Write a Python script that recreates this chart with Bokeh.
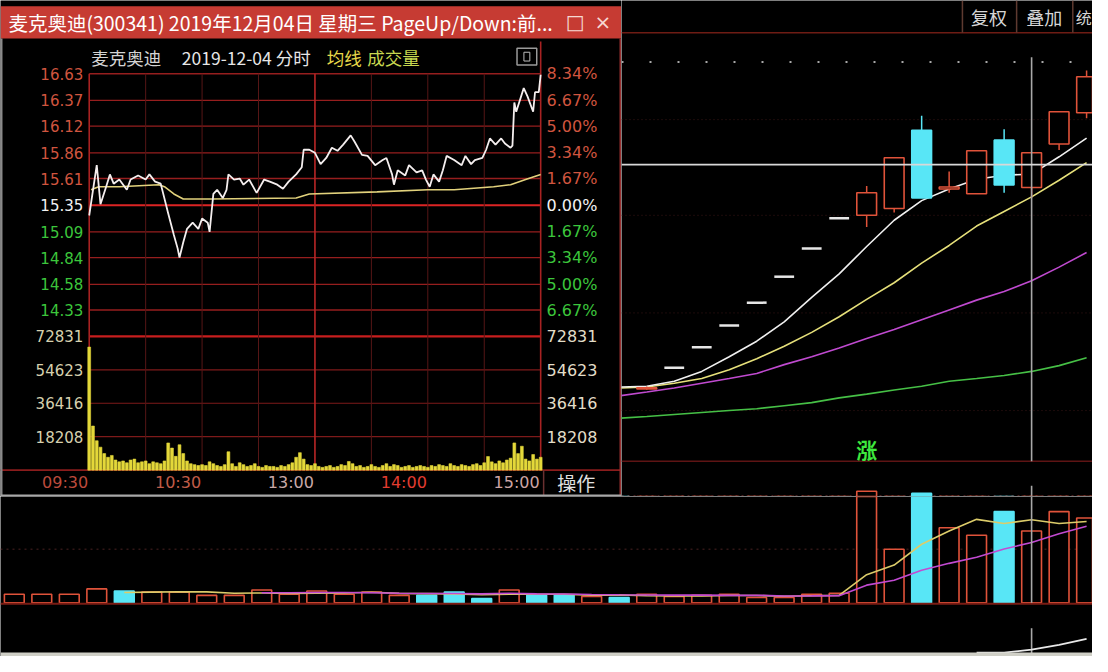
import numpy as np
from bokeh.plotting import figure
from bokeh.models import Range1d, Span
from bokeh.layouts import column, row
from bokeh.core.properties import value
from bokeh.embed import file_html
from bokeh.resources import INLINE

# ---------------- popup (intraday) data ----------------
title_text = "麦克奥迪(300341) 2019年12月04日 星期三 PageUp/Down:前..."
sub_name = "麦克奥迪"
sub_date = "2019-12-04 分时"
sub_avg = "均线"
sub_vol = "成交量"
op_text = "操作"

intra_min = [0, 4, 6, 9, 11, 13, 16, 20, 22, 26,
             30, 32, 35, 38, 42, 45, 47, 48, 50, 52,
             55, 58, 60, 63, 64, 66, 68, 71, 73, 74,
             77, 80, 82, 85, 89, 93, 96, 100, 103, 106,
             110, 113, 114, 117, 120, 123, 126, 129, 132, 135,
             139, 141, 145, 148, 152, 156, 158, 161, 162, 164,
             168, 170, 174, 177, 179, 181, 183, 186, 188, 190,
             194, 198, 200, 203, 205, 209, 211, 213, 216, 219,
             221, 224, 225, 226, 227, 231, 233, 236, 237, 239,
             240]
intra_price = [15.25, 15.74, 15.36, 15.53, 15.65, 15.56, 15.60, 15.50, 15.60, 15.64,
               15.60, 15.65, 15.58, 15.56, 15.27, 15.06, 14.93, 14.84, 14.99, 15.12,
               15.18, 15.12, 15.22, 15.18, 15.09, 15.46, 15.50, 15.42, 15.50, 15.65,
               15.60, 15.61, 15.55, 15.60, 15.47, 15.60, 15.58, 15.55, 15.51, 15.58,
               15.65, 15.72, 15.89, 15.89, 15.86, 15.75, 15.81, 15.91, 15.88, 15.94,
               16.03, 15.97, 15.84, 15.83, 15.74, 15.79, 15.81, 15.65, 15.55, 15.69,
               15.64, 15.74, 15.67, 15.69, 15.60, 15.53, 15.65, 15.58, 15.69, 15.83,
               15.79, 15.74, 15.83, 15.75, 15.79, 15.81, 15.89, 16.00, 15.94, 16.00,
               15.95, 15.91, 15.93, 16.35, 16.26, 16.49, 16.41, 16.26, 16.45, 16.45,
               16.62]
avg_min = [1, 5, 16, 37, 40, 45, 50, 65, 110, 117, 153, 180, 194, 215, 224, 232, 240]
avg_price = [15.50, 15.53, 15.53, 15.55, 15.53, 15.46, 15.41, 15.41, 15.42, 15.46,
             15.48, 15.50, 15.50, 15.53, 15.55, 15.60, 15.65]
vol_min = list(range(0, 241, 2))
intra_vol = [67000, 24000, 16000, 12500, 9000, 7000, 8000, 5500, 4500, 5000,
             4000, 5500, 6000, 4000, 4500, 5000, 3500, 4500, 4000, 3500,
             5000, 14800, 12000, 7500, 13800, 9000, 5000, 3500, 3000, 2500,
             3000, 2500, 4500, 3500, 2500, 2000, 3000, 10000, 3500, 2000,
             4000, 3000, 2000, 2500, 3500, 2000, 1500, 2500, 2000, 2000,
             1500, 2500, 2000, 3000, 4000, 7000, 9500, 6000, 3000, 2500,
             3500, 2000, 1500, 2000, 2500, 1500, 2000, 3000, 2500, 4700,
             3500, 2000, 2500, 1500, 2000, 3000, 2000, 1500, 2500, 3500,
             2000, 3000, 2500, 1500, 2000, 2500, 1500, 2000, 2500, 2000,
             1500, 2500, 2000, 3000, 2500, 2000, 3500, 2500, 2000, 3000,
             2500, 2000, 3000, 3500, 2500, 4000, 7400, 4500, 3500, 5000,
             4000, 5500, 6500, 14800, 9000, 13000, 6000, 5000, 8500, 6000,
             7000]
price_ticks = [16.63, 16.37, 16.12, 15.86, 15.61, 15.35, 15.09, 14.84, 14.58, 14.33]
price_labels = ["16.63", "16.37", "16.12", "15.86", "15.61", "15.35", "15.09", "14.84", "14.58", "14.33"]
pct_labels = ["8.34%", "6.67%", "5.00%", "3.34%", "1.67%", "0.00%", "1.67%", "3.34%", "5.00%", "6.67%"]
vol_ticks = [72831, 54623, 36416, 18208]
vol_labels = ["72831", "54623", "36416", "18208"]
time_ticks = [0, 60, 120, 180, 240]
time_labels = ["09:30", "10:30", "13:00", "14:00", "15:00"]
half_ticks = [30, 60, 90, 150, 180, 210]

# ---------------- daily (background) data ----------------
day_vol = [8, 8, 8, 13, 11, 10, 10, 7, 7, 12,
           8, 11, 8, 10, 7, 7, 10, 4, 12, 7,
           7, 6, 5, 8, 6, 7, 8, 5, 5, 8,
           9, 104, 50, 102, 70, 63, 85, 67, 85, 79]
day_dir = [1, 1, 1, 1, -1, 1, 1, 1, 1, 1,
           1, 1, 1, 1, 1, -1, -1, -1, 1, -1,
           -1, 1, -1, 1, 1, 1, 1, 1, 1, 1,
           1, 1, 1, -1, 1, 1, -1, 1, 1, 1]
k_day = list(range(23, 40))
k_open = [7.25, 8.10, 8.91, 9.77, 10.68, 11.71, 12.83, 14.03, 14.15, 14.42, 17.52, 15.19, 15.00, 17.13, 15.25, 16.98, 18.22]
k_high = [7.35, 8.10, 8.91, 9.77, 10.68, 11.71, 12.83, 14.03, 15.31, 16.43, 18.10, 15.89, 16.71, 17.56, 16.63, 18.26, 19.90]
k_low = [7.22, 8.10, 8.91, 9.77, 10.68, 11.71, 12.83, 14.03, 13.68, 14.26, 14.84, 15.04, 15.00, 15.04, 14.84, 16.74, 18.00]
k_close = [7.30, 8.10, 8.91, 9.77, 10.68, 11.71, 12.83, 14.03, 15.04, 16.43, 14.84, 15.27, 16.71, 15.35, 16.63, 18.26, 19.65]
ma_day = list(range(22, 40))
ma5 = [7.33, 7.36, 7.56, 7.95, 8.53, 9.15, 9.92, 10.89, 11.82, 12.91, 13.95, 14.73, 15.19, 15.58, 15.74, 15.78, 16.47, 17.21]
ma10 = [7.29, 7.33, 7.48, 7.67, 8.02, 8.45, 8.95, 9.50, 10.12, 10.81, 11.47, 12.25, 12.95, 13.72, 14.30, 14.88, 15.54, 16.24]
ma20 = [6.98, 7.13, 7.29, 7.48, 7.67, 7.87, 8.22, 8.53, 8.88, 9.26, 9.61, 10.00, 10.39, 10.78, 11.12, 11.55, 12.09, 12.67]
ma60 = [6.09, 6.16, 6.24, 6.32, 6.40, 6.47, 6.59, 6.71, 6.90, 7.05, 7.21, 7.36, 7.56, 7.67, 7.79, 7.95, 8.18, 8.49]
cross_day = 37
cross_price = 16.16
ind_day = [35, 36, 37, 38, 39]
ind_val = [4, 4, 7, 12, 18]
buttons = ["复权", "叠加", "统"]
signal_day = 31
signal_text = "涨"

CJK = value("Noto Sans CJK SC")
NUM = value("DejaVu Sans")

RED_UP = "#e0533a"
CYAN = "#58e6f6"

# output size (window minus the 8px page margin); the reference is 1108 x 672
OUT_W, OUT_H = 1092, 656
REF_W, REF_H = 1108, 672
POP_W = round(630 * OUT_W / REF_W)
TOP_H = round(508 * OUT_H / REF_H)


def lin_range(v1, p1, v2, p2, pa, pb):
    b = (p2 - p1) / (v2 - v1)
    return Range1d(v1 + (pa - p1) / b, v1 + (pb - p1) / b)


def base_fig(w, h, x0, x1, y0, y1, xr, yr, extra_y):
    p = figure(width=w, height=h, x_range=xr, y_range=yr,
               output_backend="svg", toolbar_location=None,
               x_axis_location=None, y_axis_location=None,
               min_border=0, background_fill_color="#000000",
               border_fill_color="#000000", outline_line_color=None)
    p.grid.visible = False
    p.extra_x_ranges = {"px": Range1d(x0, x1)}
    ey = {"py": Range1d(y1, y0)}
    ey.update(extra_y)
    p.extra_y_ranges = ey
    return p


def hline(p, xa, xb, y, color, width=1.0, dash="solid", yr="py"):
    p.segment(x0=[xa], x1=[xb], y0=[y], y1=[y], x_range_name="px", y_range_name=yr,
              line_color=color, line_width=width, line_dash=dash)


def vline_px(p, x, ya, yb, color, width=1.0):
    p.segment(x0=[x], x1=[x], y0=[ya], y1=[yb], x_range_name="px", y_range_name="py",
              line_color=color, line_width=width)


# ======================= popup figure =======================
pop = base_fig(POP_W, TOP_H, 0, 630, 0, 508,
               lin_range(0, 90, 240, 548, 0, 630),
               lin_range(16.63, 75, 14.33, 317, 508, 0),
               {"vol": lin_range(72831, 344, 0, 481, 508, 0)})

# title bar
pop.quad(left=[0], right=[630], top=[6], bottom=[39], x_range_name="px", y_range_name="py",
         fill_color="#c63b33", line_color=None)
pop.text(x=[8], y=[23], text=[title_text], x_range_name="px", y_range_name="py",
         text_font=CJK, text_font_size="19.5px", text_color="#ffffff", text_baseline="middle")
pop.text(x=[583, 611], y=[22, 22], text=["□", "×"], x_range_name="px", y_range_name="py",
         text_font=NUM, text_font_size="20px", text_color="#f6d8d2",
         text_align="center", text_baseline="middle")

# sub header
pop.text(x=[92, 184, 331, 372], y=[58, 58, 58, 58], text=[sub_name, sub_date, sub_avg, sub_vol],
         x_range_name="px", y_range_name="py", text_font=CJK, text_font_size="17.5px",
         text_color=["#d4d4d4", "#e6e6e6", "#e8d84a", "#c8d850"], text_baseline="middle")
pop.quad(left=[524], right=[544], top=[49], bottom=[66], x_range_name="px", y_range_name="py",
         fill_color=None, line_color="#9a9a9a", line_width=1.5)
pop.quad(left=[531], right=[537], top=[53], bottom=[62], x_range_name="px", y_range_name="py",
         fill_color=None, line_color="#bcbcbc", line_width=1)

# grid: price levels
pg_col = ["#961e1e"] * 5 + ["#dc2424"] + ["#961e1e"] * 4
pg_w = [1.3] * 5 + [2.2] + [1.3] * 4
pop.segment(x0=[90] * 10, x1=[548] * 10, y0=price_ticks, y1=price_ticks, x_range_name="px",
            line_color=pg_col, line_width=pg_w)
# grid: volume levels
vg_col = ["#c81e1e", "#7e1a1a", "#7e1a1a", "#7e1a1a"]
vg_w = [2.2, 1.2, 1.2, 1.2]
pop.segment(x0=[90] * 4, x1=[548] * 4, y0=vol_ticks, y1=vol_ticks, x_range_name="px",
            y_range_name="vol", line_color=vg_col, line_width=vg_w)
pop.segment(x0=[0], x1=[630], y0=[0], y1=[0], x_range_name="px", y_range_name="vol",
            line_color="#8a1c1c", line_width=1.6)
# vertical time lines
pop.segment(x0=half_ticks, x1=half_ticks, y0=[75] * 6, y1=[481] * 6, y_range_name="py",
            line_color="#561616", line_width=1)
pop.segment(x0=[120], x1=[120], y0=[75], y1=[481], y_range_name="py",
            line_color="#b82626", line_width=1.6)
pop.segment(x0=[0, 240], x1=[0, 240], y0=[75, 42], y1=[481, 481], y_range_name="py",
            line_color="#a82222", line_width=1.6)

# series
pop.vbar(x=vol_min, top=intra_vol, width=1.5, y_range_name="vol",
         fill_color="#e4d83a", line_color="#e4d83a", line_width=0.6)
pop.line(avg_min, avg_price, line_color="#e2d27c", line_width=1.6)
pop.line(intra_min, intra_price, line_color="#f4eeee", line_width=1.8)

# axis labels
lab_col = ["#d0553f"] * 5 + ["#f2f2f2"] + ["#3cc63c"] * 4
pop.text(x=[84] * 10, y=price_ticks, text=price_labels, x_range_name="px",
         text_font=NUM, text_font_size="15px", text_color=lab_col,
         text_align="right", text_baseline="middle")
pop.text(x=[554] * 10, y=price_ticks, text=pct_labels, x_range_name="px",
         text_font=NUM, text_font_size="16px", text_color=lab_col,
         text_align="left", text_baseline="middle")
pop.text(x=[84] * 4, y=vol_ticks, text=vol_labels, x_range_name="px", y_range_name="vol",
         text_font=NUM, text_font_size="15px", text_color="#d6d0ae",
         text_align="right", text_baseline="middle")
pop.text(x=[554] * 4, y=vol_ticks, text=vol_labels, x_range_name="px", y_range_name="vol",
         text_font=NUM, text_font_size="16px", text_color="#e2ddc8",
         text_align="left", text_baseline="middle")
pop.text(x=time_ticks, y=[494] * 5, text=time_labels, y_range_name="py",
         text_font=NUM, text_font_size="16px",
         text_color=["#bc4a3c", "#c05c48", "#c8a8a8", "#e23c30", "#cca4a4"],
         text_align="right", text_baseline="middle", x_offset=-1)
# operation cell
vline_px(pop, 551, 481, 508, "#6a3030", 1.5)
pop.text(x=[584], y=[494], text=[op_text], x_range_name="px", y_range_name="py",
         text_font=CJK, text_font_size="19px", text_color="#e2e2e2",
         text_align="center", text_baseline="middle")
# window borders
vline_px(pop, 629, 39, 508, "#9a3030", 2)
vline_px(pop, 1, 39, 508, "#8a8a8a", 2)
hline(pop, 0, 630, 507, "#a8a8a8", 2)

# ======================= daily K-line figure =======================
kl = base_fig(OUT_W - POP_W, TOP_H, 630, 1108, 0, 508,
              lin_range(0, 14, 39, 1102, 630, 1108),
              lin_range(20, 69, 10, 327, 508, 0),
              {"vol": lin_range(0, 617, 100, 507, 508, 0)})

hline(kl, 630, 1108, 33, "#6e1c14", 1.5)
kl.segment(x0=[976, 1031, 1088], x1=[976, 1031, 1088], y0=[0, 0, 0], y1=[33, 33, 33],
           x_range_name="px", y_range_name="py", line_color="#5e3a30", line_width=1.5)
kl.text(x=[1003, 1059, 1091], y=[17, 17, 17], text=buttons, x_range_name="px", y_range_name="py",
        text_font=CJK, text_font_size=["18px", "18px", "16px"], text_color="#d6d6d6",
        text_align=["center", "center", "left"], text_baseline="middle")
hline(kl, 630, 1108, 63, "#a8a8a8", 2, "2 26")
for yy in [122, 220, 320, 420]:
    hline(kl, 630, 1108, yy, "#3a1616", 1, "1 3")
hline(kl, 630, 1108, 472, "#5e1414", 1.5)
hline(kl, 630, 1108, 507, "#4a2222", 1, "2 4")

# moving averages
kl.line(ma_day, ma60, line_color="#46c046", line_width=1.6)
kl.line(ma_day, ma20, line_color="#c04ad0", line_width=1.6)
kl.line(ma_day, ma10, line_color="#e6e07a", line_width=1.6)
kl.line(ma_day, ma5, line_color="#f0f0f0", line_width=1.6)

# candles
ko, kh, klo, kc = map(np.array, (k_open, k_high, k_low, k_close))
kd = np.array(k_day)
flat = kh == klo
up = kc >= ko
body = ~flat
col = np.where(up, RED_UP, CYAN)
kl.segment(x0=kd[body], x1=kd[body], y0=kh[body], y1=klo[body],
           line_color=list(col[body]), line_width=1.5)
kl.vbar(x=kd[body], top=np.maximum(ko, kc)[body], bottom=np.minimum(ko, kc)[body], width=0.72,
        fill_color=list(np.where(up, "#000000", CYAN)[body]), line_color=list(col[body]),
        line_width=1.6)
kl.segment(x0=kd[flat] - 0.36, x1=kd[flat] + 0.36, y0=kc[flat], y1=kc[flat],
           line_color="#e6e6e6", line_width=2.5)

# crosshair
kl.add_layout(Span(location=cross_price, dimension="width", line_color="#d8d8d8", line_width=1.6))
kl.segment(x0=[cross_day, cross_day], x1=[cross_day, cross_day], y0=[58, 497], y1=[472, 508],
           y_range_name="py", line_color="#a8a8a8", line_width=1.6)
kl.text(x=[signal_day], y=[459], text=[signal_text], y_range_name="py",
        text_font=CJK, text_font_size="21px", text_font_style="bold", text_color="#3ee83e",
        text_align="center", text_baseline="middle")

# ======================= bottom volume figure =======================
bt = base_fig(OUT_W, OUT_H - TOP_H, 0, 1108, 508, 672,
              lin_range(0, 14, 39, 1102, 0, 1108),
              lin_range(0, 617, 100, 507, 672, 508),
              {"ind": lin_range(0, 672, 10, 662, 672, 508)})

hline(bt, 0, 1108, 562, "#4a2222", 1, "2 4")

dv = np.array(day_vol, dtype=float)
dd = np.array(day_dir)
days = np.arange(len(day_vol))
vcol = list(np.where(dd > 0, RED_UP, CYAN))
vfill = list(np.where(dd > 0, "#000000", CYAN))
for fig, yr in ((bt, "default"), (kl, "vol")):
    fig.vbar(x=days, top=dv, bottom=0, width=0.72, y_range_name=yr,
             fill_color=vfill, line_color=vcol, line_width=1.6)

hline(bt, 0, 1108, 618, "#7a1c14", 2)
ma5v = np.convolve(dv, np.ones(5) / 5, mode="valid")
ma10v = np.convolve(dv, np.ones(10) / 10, mode="valid")
bt.line(days[4:], ma5v, line_color="#dccc6a", line_width=1.6)
bt.line(days[9:], ma10v, line_color="#c24ad2", line_width=1.6)
bt.segment(x0=[cross_day, cross_day], x1=[cross_day, cross_day], y0=[508, 643], y1=[617, 672],
           y_range_name="py", line_color="#a8a8a8", line_width=1.6)
bt.line(ind_day, ind_val, y_range_name="ind", line_color="#e8e8e8", line_width=1.8)
bt.quad(left=[0], right=[1108], top=[668], bottom=[672], x_range_name="px", y_range_name="py",
        fill_color="#cfcfc6", line_color=None)

layout = column(row(pop, kl), bt)
open("out.html", "w").write(file_html(layout, INLINE))
